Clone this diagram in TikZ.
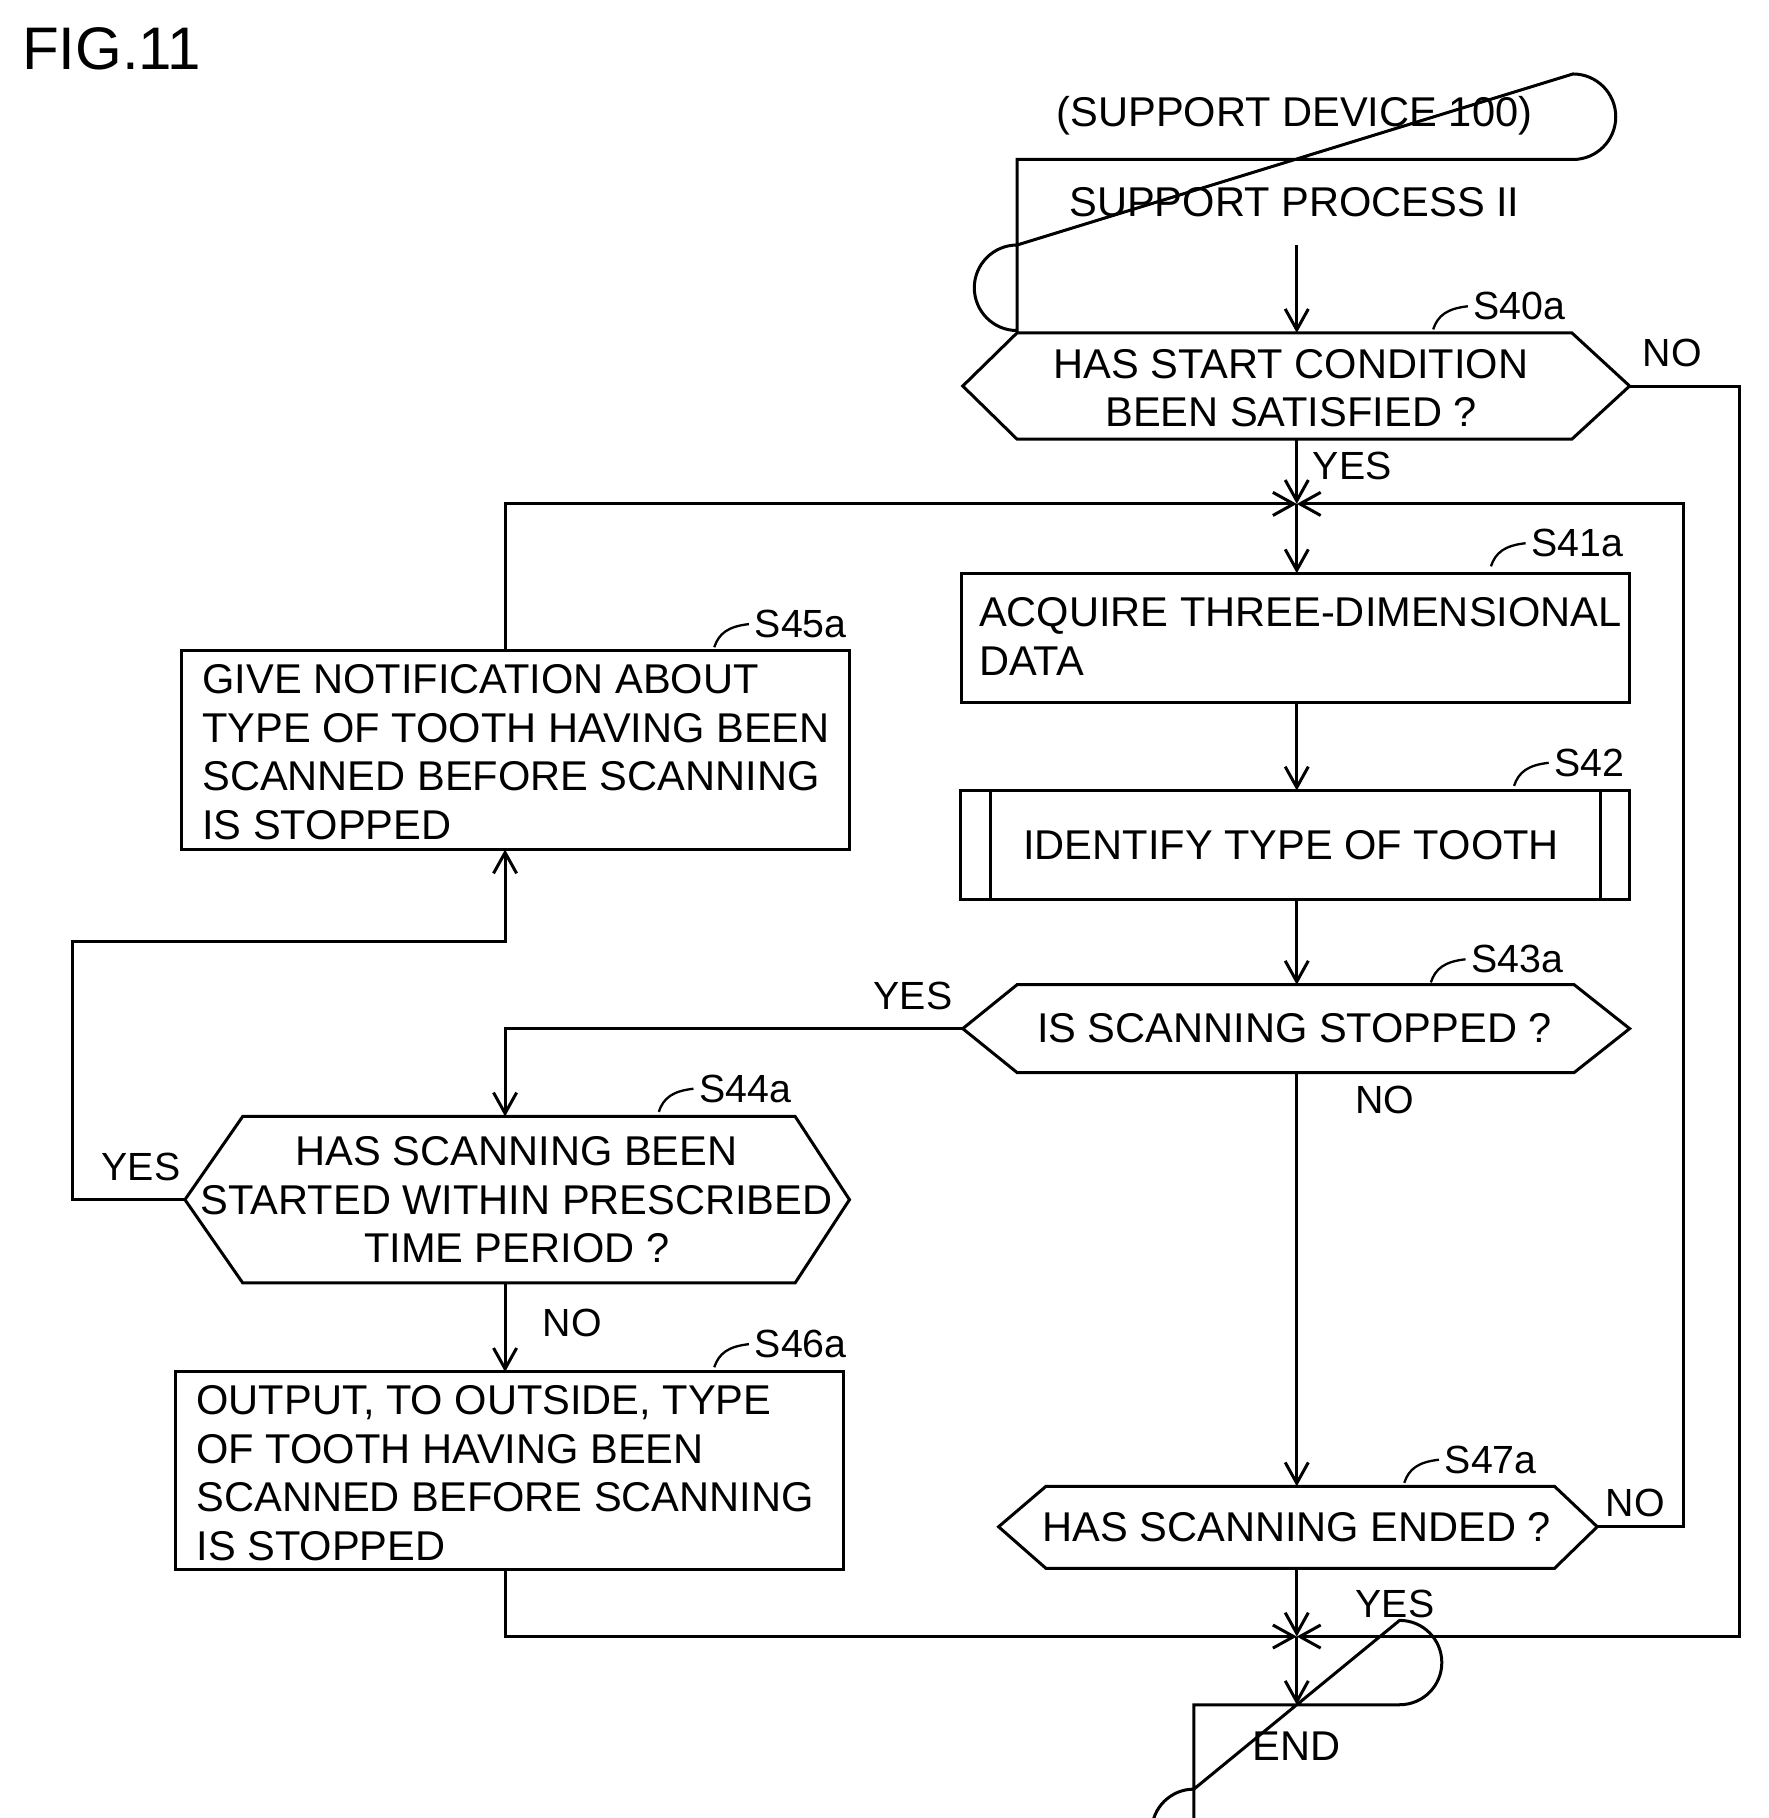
\documentclass[tikz,border=0pt]{standalone}
\usepackage{fontspec}
\setmainfont{Liberation Sans}
\usetikzlibrary{arrows.meta}
\begin{document}
\begin{tikzpicture}[x=0.5pt,y=-0.5pt,
  ln/.style={line width=1.3pt},
  arr/.style={ln,-{Straight Barb[length=9pt,width=10pt,line width=1.3pt]}},
  txt/.style={font=\fontsize{18}{21}\selectfont},
  lbl/.style={font=\fontsize{17}{20}\selectfont},
  ref/.style={font=\fontsize{17}{20}\selectfont,anchor=west}]
\useasboundingbox (0,0) rectangle (1530,1573);
\node[anchor=west,font=\fontsize{26}{30}\selectfont] (fig) at (12,42) {FIG.11};
\node[txt] (dev) at (1120,100) {(SUPPORT DEVICE 100)};
% start
\draw[ln] (880,138) -- (1361,138) arc(90:-90:37) -- (880,212) arc(270:90:37) -- cycle;
\node[txt] (st) at (1120,175) {SUPPORT PROCESS II};
% S40a
\draw[ln] (833,334) -- (880,288) -- (1360,288) -- (1410,334) -- (1360,380) -- (880,380) -- cycle;
\node[txt,align=center] (s40) at (1117,336) {HAS START CONDITION\\BEEN SATISFIED ?};
% S41a
\draw[ln] (832,496) rectangle (1410,608);
\node[txt,align=left,anchor=north west] (s41) at (840,510) {ACQUIRE THREE-DIMENSIONAL\\DATA};
% S42
\draw[ln] (831,684) rectangle (1410,778) (857,684) -- (857,778) (1385,684) -- (1385,778);
\node[txt] (s42) at (1117,731) {IDENTIFY TYPE OF TOOTH};
% S43a
\draw[ln] (833,890) -- (880,852) -- (1362,852) -- (1410,890) -- (1362,928) -- (880,928) -- cycle;
\node[txt] (s43) at (1120,890) {IS SCANNING STOPPED ?};
% S44a
\draw[ln] (160,1038) -- (210,966) -- (688,966) -- (735,1038) -- (688,1110) -- (210,1110) -- cycle;
\node[txt,align=center] (s44) at (447,1038) {HAS SCANNING BEEN\\STARTED WITHIN PRESCRIBED\\TIME PERIOD ?};
% S45a
\draw[ln] (157,563) rectangle (735,735);
\node[txt,align=left,anchor=north west] (s45) at (168,568) {GIVE NOTIFICATION ABOUT\\TYPE OF TOOTH HAVING BEEN\\SCANNED BEFORE SCANNING\\IS STOPPED};
% S46a
\draw[ln] (152,1187) rectangle (730,1358);
\node[txt,align=left,anchor=north west] (s46) at (163,1192) {OUTPUT, TO OUTSIDE, TYPE\\OF TOOTH HAVING BEEN\\SCANNED BEFORE SCANNING\\IS STOPPED};
% S47a
\draw[ln] (864,1321) -- (905,1286) -- (1345,1286) -- (1382,1321) -- (1345,1357) -- (905,1357) -- cycle;
\node[txt] (s47) at (1122,1321) {HAS SCANNING ENDED ?};
% END
\draw[ln] (1033,1475) -- (1211,1475) arc(90:-90:36.5) -- (1033,1548) arc(270:90:36.5) -- cycle;
\node[txt] (end) at (1122,1511) {END};
% coordinates
\coordinate (m1) at (1122,436);
\coordinate (m2) at (1122,1416);
% connectors
\draw[arr] (1122,212) -- (1122,288);
\draw[arr] (1122,380) -- (m1);
\draw[arr] (m1) -- (1122,496);
\draw[arr] (1122,608) -- (1122,684);
\draw[arr] (1122,778) -- (1122,852);
\draw[arr] (1122,928) -- (1122,1286);
\draw[arr] (1122,1357) -- (m2);
\draw[arr] (m2) -- (1122,1475);
\draw[arr] (1410,334) -- (1505,334) -- (1505,1416) -- (m2);
\draw[arr] (437,1358) -- (437,1416) -- (m2);
\draw[arr] (1382,1321) -- (1457,1321) -- (1457,436) -- (m1);
\draw[arr] (437,563) -- (437,436) -- (m1);
\draw[arr] (833,890) -- (437,890) -- (437,966);
\draw[arr] (160,1038) -- (63,1038) -- (63,815) -- (437,815) -- (437,735);
\draw[arr] (437,1110) -- (437,1187);
% branch labels
\node[lbl] at (1447,305) {NO};
\node[lbl] at (1170,403) {YES};
\node[lbl] at (790,862) {YES};
\node[lbl] at (1198,952) {NO};
\node[lbl] at (122,1010) {YES};
\node[lbl] at (495,1145) {NO};
\node[lbl] at (1415,1300) {NO};
\node[lbl] at (1207,1388) {YES};
% step refs
\foreach \x/\y/\t in {1240/285/S40a,1290/490/S41a,1310/680/S42,1238/850/S43a,570/962/S44a,618/560/S45a,618/1183/S46a,1215/1283/S47a}{
  \draw[line width=1pt] (\x,\y) .. controls (\x+4,\y-12) and (\x+12,\y-18) .. (\x+30,\y-20);
  \node[ref] at (\x+28,\y-20) {\t};
}
\end{tikzpicture}
\end{document}
